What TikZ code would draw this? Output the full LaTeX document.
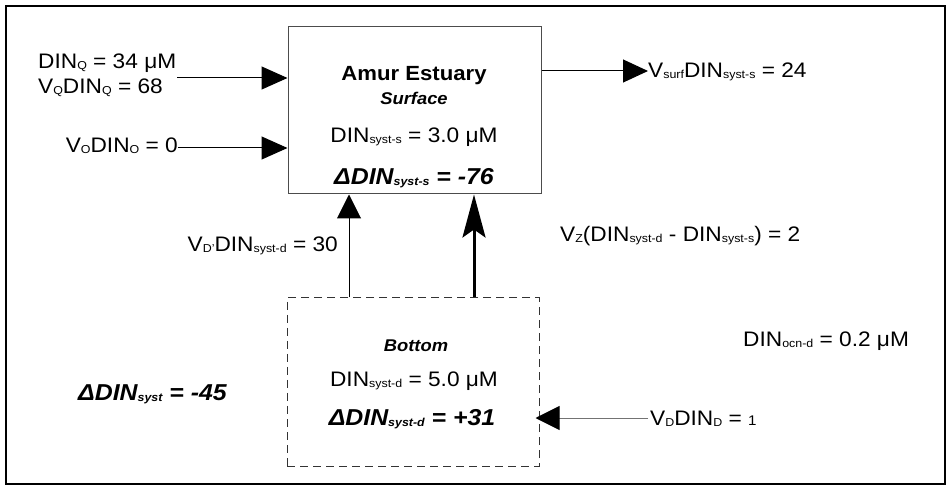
\documentclass[tikz,border=0pt]{standalone}
\usepackage{fontspec}
\setmainfont{Liberation Sans}[FakeStretch=1.08]
\usetikzlibrary{arrows.meta}
\newcommand\sbx[1]{\raisebox{-1pt}{\fontsize{11.5}{12}\selectfont #1}}
\begin{document}
\begin{tikzpicture}[x=1pt,y=-1pt,
  lbl/.style={inner sep=0pt, font=\fontsize{21}{23}\selectfont},
  bld/.style={inner sep=0pt, font=\fontsize{20.5}{22}\selectfont\bfseries},
  bi/.style={inner sep=0pt, font=\fontsize{23}{25}\selectfont\bfseries\itshape},
  bis/.style={inner sep=0pt, font=\fontsize{17}{18}\selectfont\bfseries\itshape},
  tri/.style={line width=1pt, -{Triangle[length=26pt,width=23pt,color=black]}},
  thick arrow/.style={line width=3pt, -{Stealth[length=43pt,width=23pt,inset=8pt]}},
  boxs/.style={draw=black!70, line width=1pt, inner sep=0pt},
  boxd/.style={draw=black!80, line width=1pt, inner sep=0pt, dash pattern=on 8pt off 5pt}]
\useasboundingbox (0,0) rectangle (948,486);
\fill[white] (0,0) rectangle (948,486);
\draw[line width=1.6pt] (6,6) rectangle (945,484);

% boxes
\node[boxs, minimum width=253pt, minimum height=167pt] (surf) at (414.5,110.5) {};
\node[boxd, minimum width=252pt, minimum height=168pt] (bot) at (413,382) {};

% surface texts
\node[bld, anchor=base] (amur) at (414,81) {Amur Estuary};
\node[bis, anchor=base] (surfl) at (414,105) {Surface};
\node[lbl, anchor=base] (dins) at (414,143) {DIN\sbx{syst-s} = 3.0 μM};
\node[bi, anchor=base] (ddins) at (414,185) {ΔDIN\sbx{syst-s} = -76};

% bottom texts
\node[bis, anchor=base] (botl) at (416,352) {Bottom};
\node[lbl, anchor=base] (dind) at (414,386) {DIN\sbx{syst-d} = 5.0 μM};
\node[bi, anchor=base] (ddind) at (412,425) {ΔDIN\sbx{syst-d} = +31};

% left inputs
\node[lbl, anchor=base west] (dinq) at (38,69) {DIN\sbx{Q} = 34 μM};
\node[lbl, anchor=base west] (vqdinq) at (38,94) {V\sbx{Q}DIN\sbx{Q} = 68};
\node[lbl, anchor=base east] (vodino) at (178,153) {V\sbx{O}DIN\sbx{O} = 0};
\coordinate (qstart) at (177,78);
\coordinate (ostart) at (178,148);
\draw[tri] (qstart) -- (surf.west |- qstart);
\draw[tri] (ostart) -- (surf.west |- ostart);

% output
\coordinate (outend) at (648,71);
\draw[tri, -{Triangle[length=25pt,width=23pt]}] (surf.east |- outend) -- (outend);
\node[lbl, anchor=base west] (vsurf) at (648,78) {V\sbx{surf}DIN\sbx{syst-s} = 24};

% vertical exchanges
\coordinate (xa) at (349,250);
\coordinate (xb) at (474,250);
\draw[tri, -{Triangle[length=24pt,width=24pt]}] (bot.north -| xa) -- (surf.south -| xa);
\draw[thick arrow] (bot.north -| xb) -- (surf.south -| xb);
\node[lbl, anchor=base east] (vdp) at (338,252) {V\sbx{D'}DIN\sbx{syst-d} = 30};
\node[lbl, anchor=base west] (vz) at (560,242) {V\sbx{Z}(DIN\sbx{syst-d} - DIN\sbx{syst-s}) = 2};

% others
\node[bi, anchor=base west] (dsyst) at (78,400) {ΔDIN\sbx{syst} = -45};
\node[lbl, anchor=base west] (ocn) at (743,347) {DIN\sbx{ocn-d} = 0.2 μM};
\node[lbl, anchor=base west] (vd) at (650,425) {V\sbx{D}DIN\sbx{D} = {\fontsize{14}{14}\selectfont 1}};
\coordinate (vdstart) at (648,418);
\draw[line width=1pt, draw=black!55, -{Triangle[length=24pt,width=24pt,color=black]}, shorten >=-4pt] (vdstart) -- (bot.east |- vdstart);
\end{tikzpicture}
\end{document}
